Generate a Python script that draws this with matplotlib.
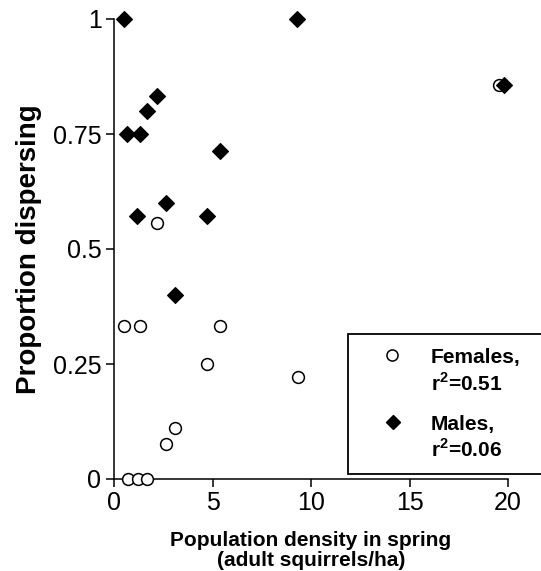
import matplotlib
matplotlib.use("Agg")
import matplotlib.pyplot as plt
from matplotlib.lines import Line2D
from matplotlib.patches import Rectangle

plt.rcParams['font.family'] = ['Liberation Sans', 'DejaVu Sans']
plt.rcParams['mathtext.fontset'] = 'custom'
plt.rcParams['mathtext.rm'] = 'Liberation Sans'
plt.rcParams['mathtext.bf'] = 'Liberation Sans:bold'

# Data
female_density = [0.5, 1.3, 2.2, 5.4, 4.7, 9.35, 3.1, 2.65, 0.7, 1.2, 1.7, 19.55]
female_prop = [0.333, 0.333, 0.556, 0.333, 0.25, 0.222, 0.111, 0.077, 0.0, 0.0, 0.0, 0.857]

male_density = [0.5, 9.3, 2.2, 1.65, 0.65, 1.3, 5.4, 2.65, 1.15, 4.7, 3.1, 19.8]
male_prop = [1.0, 1.0, 0.833, 0.8, 0.75, 0.75, 0.714, 0.6, 0.571, 0.571, 0.4, 0.857]

xticks = [0, 5, 10, 15, 20]
yticks = [0, 0.25, 0.5, 0.75, 1]
yticklabels = ['0', '0.25', '0.5', '0.75', '1']

W, H = 541, 571
fig = plt.figure(figsize=(W / 100, H / 100), dpi=100)

def fx(px):
    return px / W

def fy(py):
    return (H - py) / H

ax = fig.add_axes([fx(114), fy(479), fx(508) - fx(114), fy(19) - fy(479)])

ax.plot(female_density, female_prop, linestyle='none', marker='o', markersize=8.5,
        markerfacecolor='white', markeredgecolor='black', markeredgewidth=1.1,
        clip_on=False, zorder=3)
ax.plot(male_density, male_prop, linestyle='none', marker='D', markersize=8,
        markerfacecolor='black', markeredgecolor='black', markeredgewidth=0.8,
        clip_on=False, zorder=4)

ax.set_xlim(0, 20)
ax.set_ylim(0, 1)
ax.set_xticks(xticks)
ax.set_xticklabels([str(t) for t in xticks])
ax.set_yticks(yticks)
ax.set_yticklabels(yticklabels)
for s in ['top', 'right']:
    ax.spines[s].set_visible(False)
for s in ['left', 'bottom']:
    ax.spines[s].set_linewidth(1.1)
ax.tick_params(axis='both', direction='out', length=6, width=1.1, labelsize=18, pad=3)

ax.set_xlabel('Population density in spring\n(adult squirrels/ha)', fontsize=15,
              fontweight='bold', labelpad=11, linespacing=1.1)
ax.set_ylabel('Proportion dispersing', fontsize=20, fontweight='bold', labelpad=8)

# Legend (manual box extending past right edge)
rect = Rectangle((fx(348), fy(474)), fx(700) - fx(348), fy(334) - fy(474),
                 transform=fig.transFigure, facecolor='white', edgecolor='black',
                 linewidth=1.3, zorder=5, clip_on=False)
fig.add_artist(rect)
fig.add_artist(Line2D([fx(392)], [fy(355)], transform=fig.transFigure, marker='o',
                      markersize=8, markerfacecolor='white', markeredgecolor='black',
                      markeredgewidth=1.1, linestyle='none', zorder=6))
fig.add_artist(Line2D([fx(393)], [fy(422)], transform=fig.transFigure, marker='D',
                      markersize=7.5, markerfacecolor='black', markeredgecolor='black',
                      linestyle='none', zorder=6))
tkw = dict(transform=fig.transFigure, fontsize=15, fontweight='bold', va='baseline',
           ha='left', zorder=6)
fig.text(fx(431), fy(363), 'Females,', **tkw)
fig.text(fx(431), fy(391), r'r$^{\mathbf{2}}$=0.51', **tkw)
fig.text(fx(431), fy(430), 'Males,', **tkw)
fig.text(fx(431), fy(457), r'r$^{\mathbf{2}}$=0.06', **tkw)

fig.savefig('out.png', dpi=100)
